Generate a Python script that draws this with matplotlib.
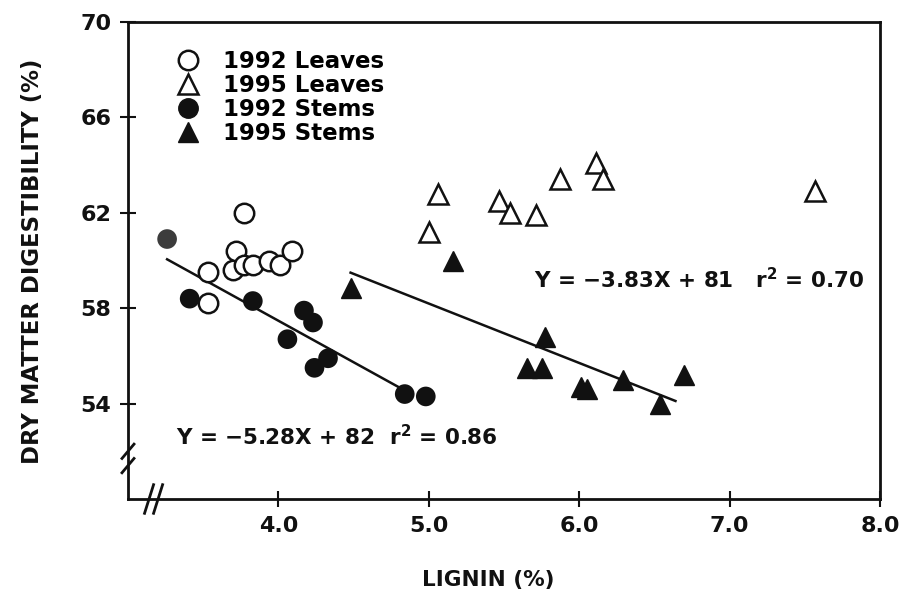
import matplotlib.pyplot as plt
from matplotlib.lines import Line2D

# lignin (%) and dry matter digestibility (%)
leaves92_x = [3.77, 3.53, 3.53, 3.70, 3.72, 3.77, 3.83, 3.94, 4.01, 4.09]
leaves92_y = [62.0, 59.5, 58.2, 59.6, 60.4, 59.8, 59.8, 60.0, 59.8, 60.4]

leaves95_x = [5.06, 5.00, 5.47, 5.54, 5.71, 5.87, 6.11, 6.16, 7.57]
leaves95_y = [62.8, 61.2, 62.5, 62.0, 61.9, 63.4, 64.1, 63.4, 62.9]

stems92_x = [3.26, 3.41, 3.83, 4.17, 4.23, 4.06, 4.33, 4.24, 4.84, 4.98]
stems92_y = [60.9, 58.4, 58.3, 57.9, 57.4, 56.7, 55.9, 55.5, 54.4, 54.3]

stems95_x = [4.48, 5.16, 5.77, 5.65, 5.75, 6.01, 6.05, 6.29, 6.54, 6.70]
stems95_y = [58.85, 60.0, 56.8, 55.5, 55.5, 54.7, 54.6, 55.0, 54.0, 55.2]

# fitted lines as drawn
fit92_x = [3.26, 4.80]
fit92_y = [60.05, 54.69]
fit95_x = [4.48, 6.64]
fit95_y = [59.49, 54.11]

xticks = [4.0, 5.0, 6.0, 7.0, 8.0]
yticks = [54, 58, 62, 66, 70]

plt.rcParams['font.family'] = ['DejaVu Sans']
plt.rcParams['font.weight'] = 'bold'

fig = plt.figure(figsize=(9.04, 5.90), dpi=100)
ax = fig.add_axes([128 / 904, 1 - 499 / 590, 752 / 904, 477 / 590])

ink = '#111111'
ax.plot(fit92_x, fit92_y, color=ink, lw=1.8, zorder=1)
ax.plot(fit95_x, fit95_y, color=ink, lw=1.8, zorder=1)

ax.plot(leaves92_x, leaves92_y, 'o', ms=14, mfc='white', mec=ink, mew=1.8, zorder=3)
ax.plot(leaves95_x, leaves95_y, '^', ms=15, mfc='white', mec=ink, mew=1.8, zorder=3)
stem_colors = ['#3c3c3c'] + [ink] * (len(stems92_x) - 1)
ax.scatter(stems92_x, stems92_y, s=200, c=stem_colors, edgecolors='none', zorder=3)
ax.plot(stems95_x, stems95_y, '^', ms=15, mfc=ink, mec=ink, mew=1, zorder=3)

ax.set_xlim(3.0, 8.0)
ax.set_ylim(50, 70)
ax.set_xticks(xticks)
ax.set_xticklabels([f'{t:.1f}' for t in xticks])
ax.set_yticks(yticks)
for s in ax.spines.values():
    s.set_linewidth(2)
    s.set_color(ink)
ax.tick_params(direction='inout', length=12, width=1.5, colors=ink,
               labelsize=16, pad=6)

# axis breaks
kw = dict(transform=ax.transAxes, color=ink, lw=2, clip_on=False)
for dx in (0.0, 0.012):
    ax.plot([0.022 + dx, 0.034 + dx], [-0.03, 0.03], **kw)
for dy in (0.0, 0.03):
    ax.plot([-0.008, 0.008], [0.055 + dy, 0.085 + dy], **kw)

ax.text(3.32, 52.6, r'Y = $-$5.28X + 82  r$^{\mathbf{2}}$ = 0.86', fontsize=15.5,
        color=ink, va='center')
ax.text(5.70, 59.22, r'Y = $-$3.83X + 81   r$^{\mathbf{2}}$ = 0.70', fontsize=15.5,
        color=ink, va='center')

handles = [
    Line2D([], [], ls='none', marker='o', ms=14, mfc='white', mec=ink, mew=1.8),
    Line2D([], [], ls='none', marker='^', ms=15, mfc='white', mec=ink, mew=1.8),
    Line2D([], [], ls='none', marker='o', ms=14, mfc=ink, mec=ink),
    Line2D([], [], ls='none', marker='^', ms=15, mfc=ink, mec=ink),
]
labels = ['1992 Leaves', '1995 Leaves', '1992 Stems', '1995 Stems']
ax.legend(handles, labels, loc='upper left', bbox_to_anchor=(0.062, 0.942),
          frameon=False, fontsize=16.5, labelspacing=0.05, handletextpad=0.9,
          handlelength=1.2, borderpad=0, borderaxespad=0)

fig.text(33 / 904, 1 - 261 / 590, 'DRY MATTER DIGESTIBILITY (%)', rotation=90,
         ha='center', va='center', fontsize=16.4, color=ink)
fig.text(488 / 904, 1 - 580 / 590, 'LIGNIN (%)', ha='center', va='center',
         fontsize=15.5, color=ink)

fig.savefig('out.png', dpi=100)
